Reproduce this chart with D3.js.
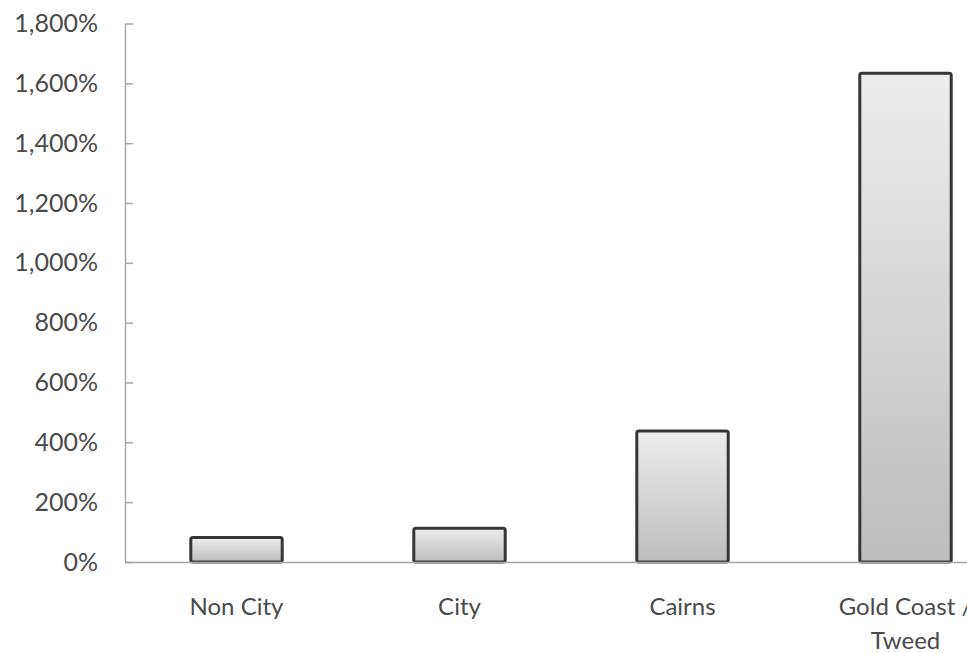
<!DOCTYPE html>
<html><head><meta charset="utf-8">
<script src="https://cdn.jsdelivr.net/npm/d3@7"></script>
<style>
html,body{margin:0;padding:0;background:#fff;overflow:hidden;}
text{font-family:Lato,"Open Sans",sans-serif;}
</style>
</head><body>
<svg id="chart" width="967" height="653"></svg>
<script>
const categories = ["Non City", "City", "Cairns", "Gold Coast / Tweed"];
const categoryLines = [["Non City"], ["City"], ["Cairns"], ["Gold Coast /", "Tweed"]];
const values = [82, 113, 438, 1634];
const yTicks = [0, 200, 400, 600, 800, 1000, 1200, 1400, 1600, 1800];

const svg = d3.select("#chart");
const x0 = 125, x1 = 1017, yBase = 562, yTop = 23.5;

const x = d3.scaleBand().domain(categories).range([x0, x1]).paddingInner(0.59).paddingOuter(0.295);
const y = d3.scaleLinear().domain([0, 1800]).range([yBase, yTop]);

const defs = svg.append("defs");
const grad = defs.append("linearGradient").attr("id", "barGrad")
  .attr("x1", 0).attr("y1", 0).attr("x2", 0).attr("y2", 1);
grad.append("stop").attr("offset", "0%").attr("stop-color", "#ededed");
grad.append("stop").attr("offset", "100%").attr("stop-color", "#bdbdbd");

// y axis
const yAxis = d3.axisLeft(y).tickValues(yTicks).tickSizeInner(-8).tickSizeOuter(0).tickPadding(27)
  .tickFormat(d => d3.format(",")(d) + "%");
const gy = svg.append("g").attr("transform", `translate(${x0},0)`).call(yAxis);
gy.select(".domain").attr("stroke", "#a6a6a6").attr("stroke-width", 1.5);
gy.selectAll(".tick line").attr("stroke", "#a6a6a6").attr("stroke-width", 1.5);
gy.selectAll(".tick text").attr("font-size", 25).attr("fill", "#4a4a4a")
  .attr("font-family", "Lato, 'Open Sans', sans-serif").attr("x", -27);

// bars
svg.append("g").selectAll("rect").data(values).join("rect")
  .attr("x", (d, i) => x(categories[i]))
  .attr("y", d => y(d))
  .attr("width", x.bandwidth())
  .attr("height", d => yBase - y(d))
  .attr("rx", 2).attr("ry", 2)
  .attr("fill", "url(#barGrad)")
  .attr("stroke", "#363636").attr("stroke-width", 3);

// x axis
const xAxis = d3.axisBottom(x).tickSize(0).tickFormat("");
const gx = svg.append("g").attr("transform", `translate(0,${yBase})`).call(xAxis);
gx.select(".domain").attr("stroke", "#a6a6a6").attr("stroke-width", 1.5);
gx.selectAll(".tick").each(function(d, i) {
  const t = d3.select(this).select("text")
    .attr("font-size", 24).attr("fill", "#4a4a4a")
    .attr("font-family", "Lato, 'Open Sans', sans-serif")
    .attr("text-anchor", "middle").attr("y", 0).attr("dy", null);
  t.text(null);
  categoryLines[i].forEach((ln, j) => {
    t.append("tspan").attr("x", 0).attr("y", 53 + j * 34).text(ln);
  });
});
</script>
</body></html>
